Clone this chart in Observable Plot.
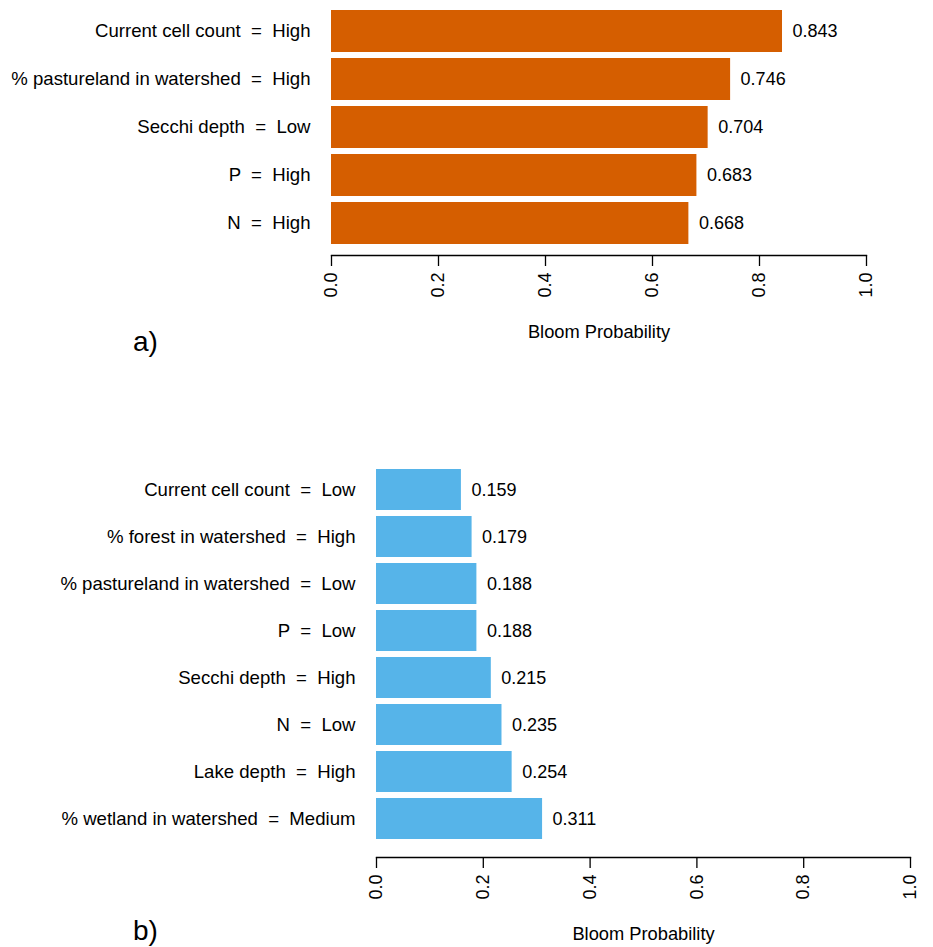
<!DOCTYPE html>
<html>
<head>
<meta charset="utf-8">
<script src="https://cdn.jsdelivr.net/npm/d3@7"></script>
<script src="https://cdn.jsdelivr.net/npm/@observablehq/plot@0.6"></script>
<style>
  html, body { margin: 0; padding: 0; background: #fff; }
  body { width: 933px; height: 947px; position: relative; overflow: hidden; font-family: "Liberation Sans", Arial, sans-serif; }
  .panel { position: absolute; left: 0; }
  .panel svg text { white-space: pre; }
  .tag { position: absolute; font-size: 28px; color: #000; font-family: "Liberation Sans", Arial, sans-serif; }
</style>
</head>
<body>
<div id="a" class="panel" style="top:0px"></div>
<div id="b" class="panel" style="top:455px"></div>
<div class="tag" style="left:133px; top:326px">a)</div>
<div class="tag" style="left:133px; top:915px">b)</div>
<script>
// Panel a — high bloom probability conditions
const labelsA = [
  "Current cell count  =  High",
  "% pastureland in watershed  =  High",
  "Secchi depth  =  Low",
  "P  =  High",
  "N  =  High"
];
const valuesA = [0.843, 0.746, 0.704, 0.683, 0.668];

// Panel b — low bloom probability conditions
const labelsB = [
  "Current cell count  =  Low",
  "% forest in watershed  =  High",
  "% pastureland in watershed  =  Low",
  "P  =  Low",
  "Secchi depth  =  High",
  "N  =  Low",
  "Lake depth  =  High",
  "% wetland in watershed  =  Medium"
];
const valuesB = [0.159, 0.179, 0.188, 0.188, 0.215, 0.235, 0.254, 0.311];

const xTicks = [0, 0.2, 0.4, 0.6, 0.8, 1.0];
const xLabel = "Bloom Probability";

function panel({labels, values, color, height, marginLeft, marginRight, yRange, axisY}) {
  const data = labels.map((label, i) => ({label, value: values[i]}));
  return Plot.plot({
    width: 933,
    height,
    marginLeft,
    marginRight,
    marginTop: 0,
    marginBottom: height - axisY,
    style: {fontFamily: "'Liberation Sans', Arial, sans-serif", fontSize: "18px", color: "#000", background: "#fff"},
    x: {domain: [0, 1], ticks: xTicks},
    y: {domain: labels, range: yRange, paddingInner: 0.12, paddingOuter: 0},
    marks: [
      Plot.barX(data, {x: "value", y: "label", fill: color}),
      Plot.text(data, {x: "value", y: "label", text: d => d.value.toFixed(3), textAnchor: "start", dx: 10, fontSize: 18, fill: "#000"}),
      Plot.frame({anchor: "bottom", stroke: "#000", strokeWidth: 1.3}),
      Plot.axisX({ticks: xTicks, tickFormat: d3.format(".1f"), tickRotate: -90, tickSize: 11, tickPadding: 6, fontSize: 18, stroke: "#000", strokeWidth: 1.3, label: null}),
      Plot.axisY({tickSize: 0, tickPadding: 21, fontSize: 18.6, label: null}),
      Plot.text([xLabel], {frameAnchor: "bottom", dy: 82, fontSize: 18.3, fill: "#000"})
    ]
  });
}

document.getElementById("a").append(panel({
  labels: labelsA, values: valuesA, color: "#D55E00",
  height: 360, marginLeft: 331, marginRight: 67, yRange: [8, 246], axisY: 255
}));

document.getElementById("b").append(panel({
  labels: labelsB, values: valuesB, color: "#56B4E9",
  height: 492, marginLeft: 376, marginRight: 23, yRange: [11, 387], axisY: 402
}));
</script>
</body>
</html>
